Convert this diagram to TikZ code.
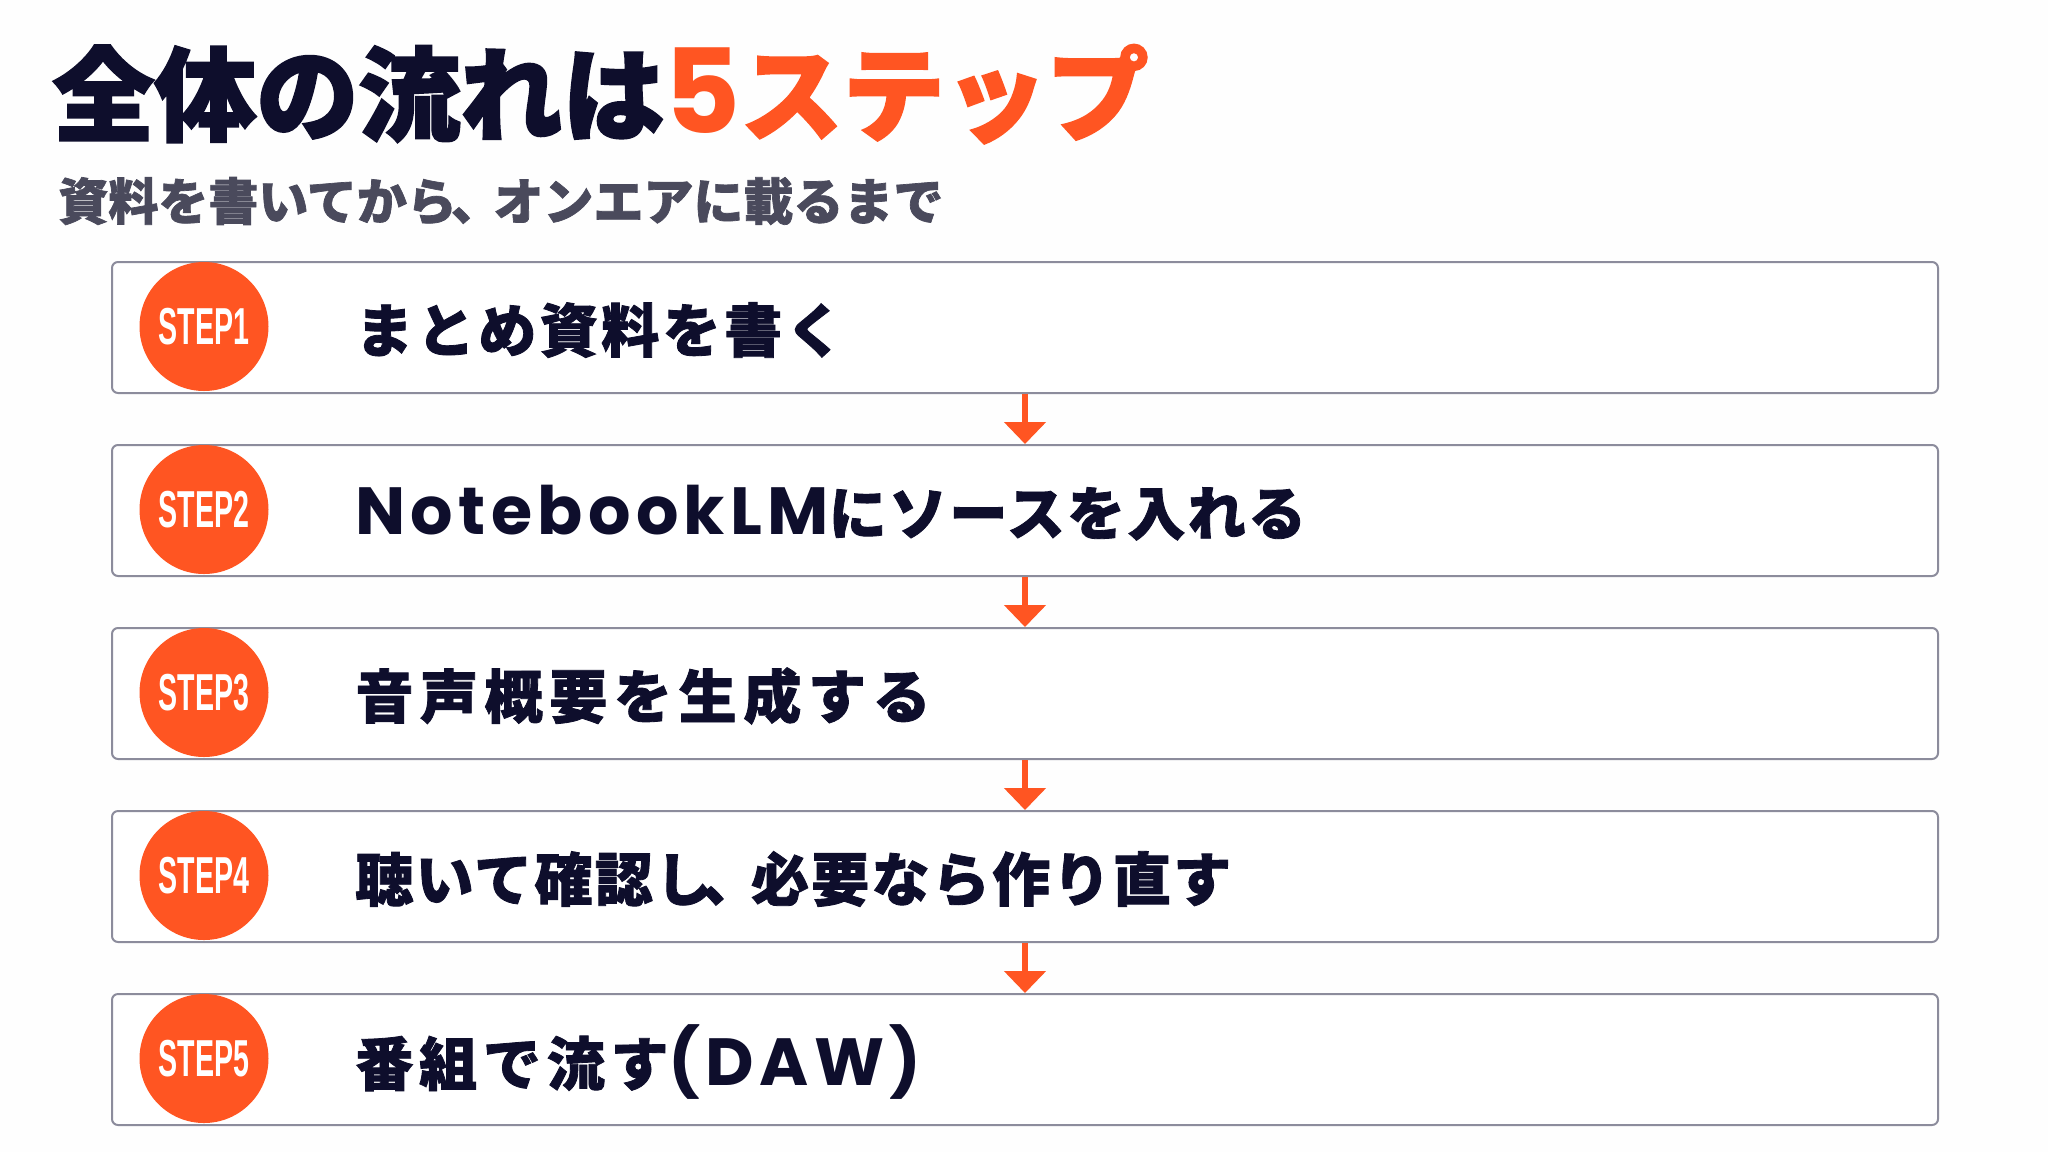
\documentclass[tikz,border=0pt]{standalone}
\usepackage{fontspec}
\usepackage{graphicx}
\setmainfont{Noto Sans CJK JP}
\newfontfamily\stepfont{Liberation Sans}
\newfontfamily\latin{Poppins}[Scale=1.15]
\newfontfamily\heavyjp{Noto Sans CJK JP}[FakeBold=2.2]
\newfontfamily\semijp{Noto Sans CJK JP}[FakeBold=1.4]
\usetikzlibrary{arrows.meta}
\definecolor{orng}{HTML}{FF5522}
\definecolor{navy}{HTML}{0E0E2C}
\definecolor{subgray}{HTML}{4A4A5C}
\definecolor{boxgray}{HTML}{8C8C9C}
\definecolor{bgc}{HTML}{FEFEFE}
\begin{document}
\begin{tikzpicture}[x=0.5pt,y=-0.5pt,
  stepbox/.style={draw=boxgray, line width=1pt, rounded corners=3pt, fill=white,
    minimum width=913pt, minimum height=65.5pt, inner sep=0pt, anchor=north west},
  badge/.style={circle, fill=orng, minimum size=64.5pt, inner sep=0pt,
    text=white, font=\stepfont\bfseries\fontsize{26pt}{26pt}\selectfont},
  steptext/.style={anchor=west, inner sep=0pt, text=navy,
    font=\semijp\bfseries\fontsize{29pt}{30pt}\selectfont},
  flow/.style={draw=orng, line width=2.6pt, -{Triangle[width=20.5pt,length=11pt]}}
]
\useasboundingbox (0,0) rectangle (2048,1152);
\fill[bgc] (0,0) rectangle (2048,1152);

\node[anchor=base west, inner sep=0pt, font=\heavyjp\bfseries\fontsize{51pt}{52pt}\selectfont] (title) at (52,133)
  {\textcolor{navy}{全体の流れは}\textcolor{orng}{{\latin\bfseries 5}ステップ}};
\node[anchor=base west, inner sep=0pt, text=subgray, font=\semijp\bfseries\fontsize{25pt}{26pt}\selectfont] (sub) at (58,220)
  {資料を書いてから\kern-0.12em 、\kern-0.15em オンエアに載るまで};

\node[stepbox] (b1) at (111,261) {};
\node[stepbox] (b2) at (111,444) {};
\node[stepbox] (b3) at (111,627) {};
\node[stepbox] (b4) at (111,810) {};
\node[stepbox] (b5) at (111,993) {};

\node[badge] (c1) at (204,326.5) {\scalebox{0.55}[1]{STEP1}};
\node[badge] (c2) at (204,509.5) {\scalebox{0.55}[1]{STEP2}};
\node[badge] (c3) at (204,692.5) {\scalebox{0.55}[1]{STEP3}};
\node[badge] (c4) at (204,875.5) {\scalebox{0.55}[1]{STEP4}};
\node[badge] (c5) at (204,1058.5) {\scalebox{0.55}[1]{STEP5}};

\node[steptext] (t1) at (355,330) {\addfontfeatures{LetterSpace=6}まとめ資料を書く};
\node[steptext] (t2) at (355,513) {{\latin\bfseries\addfontfeatures{LetterSpace=8}NotebookLM}\addfontfeatures{LetterSpace=4}にソースを入れる};
\node[steptext] (t3) at (355,696) {\addfontfeatures{LetterSpace=11.5}音声概要を生成する};
\node[steptext] (t4) at (355,879) {\addfontfeatures{LetterSpace=4}聴いて確認し\kern-0.2em 、\kern-0.15em 必要なら作り直す};
\node[steptext] (t5) at (355,1062) {\addfontfeatures{LetterSpace=10}番組で流す{\latin\bfseries\addfontfeatures{LetterSpace=8}(DAW)}};

\draw[flow] (b1.south) -- (b2.north);
\draw[flow] (b2.south) -- (b3.north);
\draw[flow] (b3.south) -- (b4.north);
\draw[flow] (b4.south) -- (b5.north);
\end{tikzpicture}
\end{document}
